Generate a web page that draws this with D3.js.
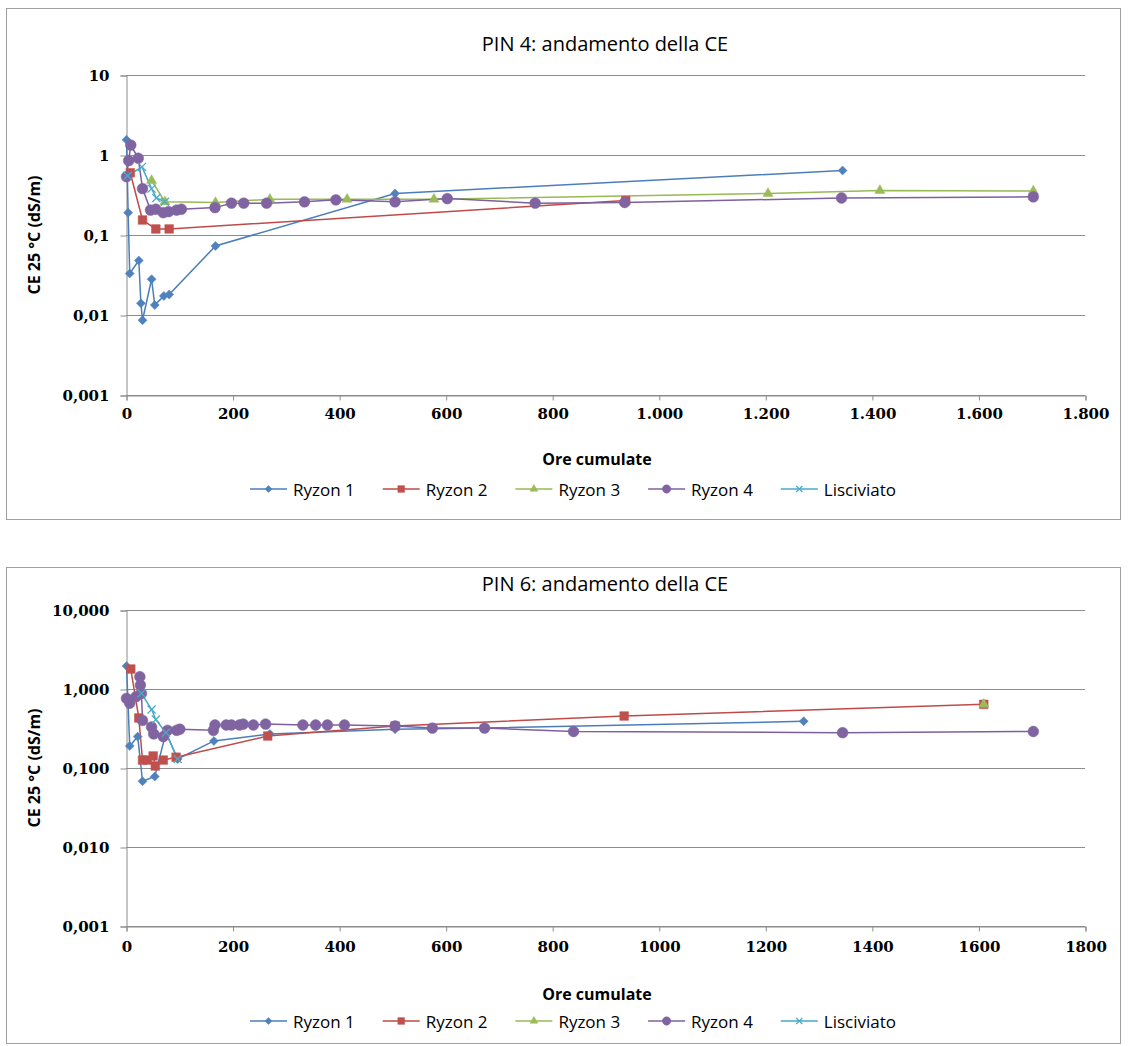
<!DOCTYPE html>
<html>
<head>
<meta charset="utf-8">
<script src="https://cdn.jsdelivr.net/npm/d3@7"></script>
<style>
  body { margin: 0; background: #fff; }
  svg { display: block; }
</style>
</head>
<body>
<div id="chart"></div>
<script>
// series names and colours (Excel 2007 palette)
const seriesNames = ["Ryzon 1", "Ryzon 2", "Ryzon 3", "Ryzon 4", "Lisciviato"];
const lineColors = ["#4A7EBB", "#BE4B48", "#98B954", "#7D60A0", "#46AAC5"];
const markColors = ["#4F81BD", "#C0504D", "#9BBB59", "#8064A2", "#4BACC6"];

// PIN 4 : [ore cumulate, CE]
const pin4Ryzon1 = [[1,1.55],[4,0.19],[7,0.033],[24,0.048],[28,0.014],[31,0.0086],[48,0.028],[54,0.0133],[71,0.0173],[81,0.018],[168,0.073],[505,0.33],[1345,0.64]];
const pin4Ryzon2 = [[8,0.6],[31,0.154],[56,0.119],[81,0.119],[938,0.27]];
const pin4Ryzon3 = [[48,0.48],[73,0.26],[168,0.255],[270,0.28],[415,0.28],[578,0.28],[1205,0.33],[1415,0.36],[1703,0.355]];
const pin4Ryzon4 = [[1,0.535],[5,0.85],[9,1.33],[23,0.91],[31,0.38],[46,0.205],[56,0.21],[70,0.19],[80,0.196],[95,0.205],[104,0.21],[167,0.22],[198,0.25],[221,0.25],[264,0.25],[335,0.26],[394,0.275],[505,0.26],[603,0.285],[768,0.25],[936,0.255],[1343,0.29],[1703,0.30]];
const pin4Lisciviato = [[3,0.55],[30,0.71],[48,0.38],[57,0.29],[73,0.26]];

// PIN 6 : [ore cumulate, CE]
const pin6Ryzon1 = [[1,1.95],[7,0.19],[22,0.25],[31,0.068],[54,0.078],[75,0.28],[97,0.13],[165,0.22],[270,0.27],[505,0.31],[675,0.32],[1272,0.39]];
const pin6Ryzon2 = [[9,1.79],[24,0.43],[31,0.126],[40,0.126],[51,0.142],[55,0.106],[70,0.126],[94,0.137],[266,0.254],[505,0.34],[935,0.455],[1610,0.64]];
const pin6Ryzon3 = [[1610,0.64]];
const pin6Ryzon4 = [[1,0.76],[7,0.66],[19,0.8],[26,1.43],[27,1.12],[29,0.88],[31,0.4],[48,0.33],[52,0.27],[70,0.25],[78,0.30],[95,0.30],[101,0.31],[164,0.30],[167,0.35],[188,0.35],[198,0.35],[213,0.35],[220,0.36],[239,0.35],[262,0.36],[332,0.35],[356,0.35],[378,0.35],[410,0.35],[505,0.34],[575,0.32],[673,0.32],[840,0.29],[1345,0.28],[1703,0.29]];
const pin6Lisciviato = [[29,0.88],[48,0.55],[56,0.41],[75,0.28],[97,0.13]];

// axis ticks
const yTicks = [0.001, 0.01, 0.1, 1, 10];
const pin4YLabels = ["0,001", "0,01", "0,1", "1", "10"];
const pin6YLabels = ["0,001", "0,010", "0,100", "1,000", "10,000"];
const xTicks = [0, 200, 400, 600, 800, 1000, 1200, 1400, 1600, 1800];
const pin4XLabels = ["0", "200", "400", "600", "800", "1.000", "1.200", "1.400", "1.600", "1.800"];
const pin6XLabels = ["0", "200", "400", "600", "800", "1000", "1200", "1400", "1600", "1800"];

const W = 1128, H = 1046;
const svg = d3.select("#chart").append("svg").attr("width", W).attr("height", H);

const symbols = [
  {type: d3.symbolSquare, size: 40, rot: 45},   // diamond
  {type: d3.symbolSquare, size: 75, rot: 0},
  {type: d3.symbolTriangle, size: 44, rot: 0},
  {type: d3.symbolCircle, size: 92, rot: 0},
  {type: d3.symbolX, size: 44, rot: 0}
];

function drawMarker(g, i, x, y, k) {
  const s = symbols[i];
  const p = g.append("path")
    .attr("d", d3.symbol().type(s.type).size(s.size * k)())
    .attr("transform", `translate(${x},${y}) rotate(${s.rot})`);
  if (i === 4) p.attr("fill", "none").attr("stroke", markColors[i]).attr("stroke-width", 1.3);
  else p.attr("fill", markColors[i]).attr("stroke", markColors[i]).attr("stroke-width", 0.5);
}

function drawPanel(cfg) {
  const g = svg.append("g");
  // chart frame
  g.append("rect")
    .attr("x", 6.5).attr("y", cfg.frameTop + 0.5)
    .attr("width", 1114).attr("height", cfg.frameH)
    .attr("fill", "#fff").attr("stroke", "#a0a0a0");

  const x = d3.scaleLinear().domain([0, 1800]).range([126, 1085]);
  const y = d3.scaleLog().domain([0.001, 10]).range([cfg.plotBottom, cfg.plotTop]);

  // gridlines
  g.append("g").selectAll("line").data(yTicks).join("line")
    .attr("x1", 126).attr("x2", 1085)
    .attr("y1", d => Math.round(y(d)) + 0.5).attr("y2", d => Math.round(y(d)) + 0.5)
    .attr("stroke", "#8c8c8c");

  const yAxis = g.append("g").attr("transform", "translate(126.5,0.5)")
    .call(d3.axisLeft(y).tickValues(yTicks).tickSize(6).tickPadding(11)
      .tickFormat((d, i) => cfg.yLabels[i]));
  const xAxis = g.append("g").attr("transform", `translate(0.5,${Math.round(cfg.plotBottom) + 0.5})`)
    .call(d3.axisBottom(x).tickValues(xTicks).tickSize(5).tickPadding(cfg.xPad)
      .tickFormat((d, i) => cfg.xLabels[i]));
  [yAxis, xAxis].forEach(a => {
    a.selectAll("path, line").attr("stroke", "#8c8c8c");
    a.selectAll("text").attr("font-family", "DejaVu Serif").attr("font-weight", "bold")
      .attr("font-size", 15).attr("fill", "#000");
  });

  // title and axis titles
  g.append("text").attr("x", 605).attr("y", cfg.titleY).attr("text-anchor", "middle")
    .attr("dominant-baseline", "central")
    .attr("font-family", "Open Sans").attr("font-size", 20).text(cfg.title);
  g.append("text").attr("x", 597).attr("y", cfg.xTitleY).attr("text-anchor", "middle")
    .attr("dominant-baseline", "central")
    .attr("font-family", "Open Sans").attr("font-weight", "bold").attr("font-size", 16)
    .text("Ore cumulate");
  g.append("text")
    .attr("transform", `translate(34,${(cfg.plotTop + cfg.plotBottom) / 2}) rotate(-90)`)
    .attr("text-anchor", "middle").attr("dominant-baseline", "central")
    .attr("font-family", "Open Sans").attr("font-weight", "bold").attr("font-size", 16)
    .text("CE 25 °C (dS/m)");

  // series
  const line = d3.line().x(d => x(d[0])).y(d => y(d[1]));
  cfg.series.forEach((data, i) => {
    g.append("path").datum(data).attr("d", line)
      .attr("fill", "none").attr("stroke", lineColors[i]).attr("stroke-width", 1.5);
  });
  cfg.series.forEach((data, i) => {
    const mg = g.append("g");
    data.forEach(d => drawMarker(mg, i, x(d[0]), y(d[1]), 1));
  });

  // legend
  seriesNames.forEach((name, i) => {
    const lx = 250 + i * 132.7;
    const lg = g.append("g");
    lg.append("line").attr("x1", lx).attr("x2", lx + 37)
      .attr("y1", cfg.legendY).attr("y2", cfg.legendY)
      .attr("stroke", lineColors[i]).attr("stroke-width", 1.5);
    drawMarker(lg, i, lx + 18.5, cfg.legendY, 0.6);
    lg.append("text").attr("x", lx + 43).attr("y", cfg.legendY)
      .attr("dominant-baseline", "central")
      .attr("font-family", "Open Sans").attr("font-size", 17).text(name);
  });
}

drawPanel({
  frameTop: 8, frameH: 511, plotTop: 75, plotBottom: 395,
  titleY: 43, xTitleY: 459, legendY: 489, xPad: 8,
  title: "PIN 4: andamento della CE",
  yLabels: pin4YLabels, xLabels: pin4XLabels,
  series: [pin4Ryzon1, pin4Ryzon2, pin4Ryzon3, pin4Ryzon4, pin4Lisciviato]
});

drawPanel({
  frameTop: 567, frameH: 476, plotTop: 610, plotBottom: 926,
  titleY: 583, xTitleY: 994, legendY: 1021, xPad: 10,
  title: "PIN 6: andamento della CE",
  yLabels: pin6YLabels, xLabels: pin6XLabels,
  series: [pin6Ryzon1, pin6Ryzon2, pin6Ryzon3, pin6Ryzon4, pin6Lisciviato]
});
</script>
</body>
</html>
